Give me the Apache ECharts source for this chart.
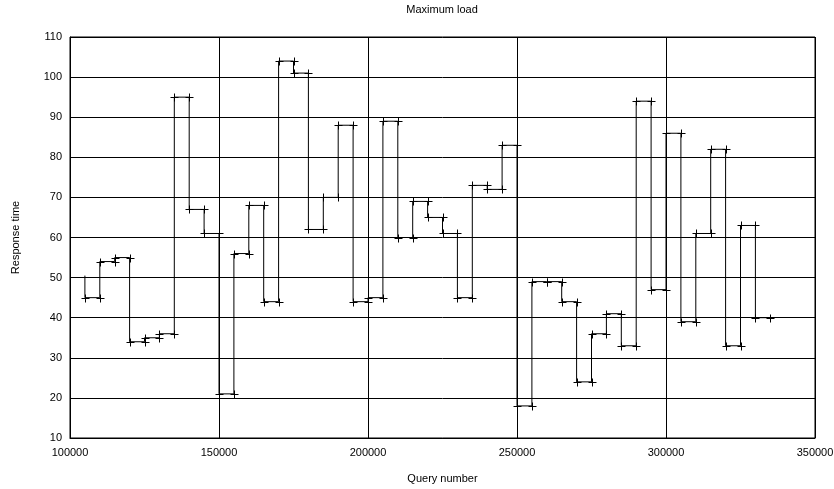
<!DOCTYPE html>
<html>
<head>
<meta charset="utf-8">
<script src="https://cdn.jsdelivr.net/npm/echarts@6/dist/echarts.min.js"></script>
<style>
html,body{margin:0;padding:0;background:#fff;}
#chart{width:834px;height:489px;}
</style>
</head>
<body>
<div id="chart"></div>
<script>
// Start of the step line (first point, no marker)
var startQuery = 105000;
var startResponse = 50.5;
// Query numbers at the right end of each step
var queryNumbers = [110000,115000,120000,125000,130000,135000,140000,145000,150000,155000,
  160000,165000,170000,175000,180000,185000,190000,195000,200000,205000,
  210000,215000,220000,225000,230000,235000,240000,245000,250000,255000,
  260000,265000,270000,275000,280000,285000,290000,295000,300000,305000,
  310000,315000,320000,325000,330000,335000];
// Response time of each step
var responseTimes = [45,54,55,34,35,36,95,67,61,21,
  56,68,44,104,101,62,70,88,44,45,
  89,60,69,65,61,45,73,72,83,18,
  49,49,44,24,36,41,33,94,47,86,
  39,61,82,33,63,40];
var xTicks = [100000,150000,200000,250000,300000,350000];
var yTicks = [10,20,30,40,50,60,70,80,90,100,110];

var lineData = [[startQuery, startResponse]];
var crossData = [];
for (var i = 0; i < queryNumbers.length; i++) {
  var prevX = i === 0 ? startQuery : queryNumbers[i-1];
  lineData.push([queryNumbers[i], responseTimes[i]]);
  crossData.push([prevX, responseTimes[i]]);
  crossData.push([queryNumbers[i], responseTimes[i]]);
}

var font = 'Liberation Sans, Arial, sans-serif';
var chart = echarts.init(document.getElementById('chart'));
chart.setOption({
  animation: false,
  backgroundColor: '#fff',
  title: {
    text: 'Maximum load',
    left: 442,
    top: 4,
    padding: 0,
    textAlign: 'center',
    textStyle: {fontSize: 11, fontWeight: 'normal', color: '#000', fontFamily: font}
  },
  grid: {left: 70, right: 19, top: 37, bottom: 51, show: true, borderColor: '#000', borderWidth: 1,
    containLabel: false, outerBoundsMode: 'none'},
  xAxis: {
    type: 'value', min: xTicks[0], max: xTicks[xTicks.length-1], interval: 50000,
    name: 'Query number', nameLocation: 'middle', nameGap: 35,
    nameTextStyle: {fontSize: 11, color: '#000', fontFamily: font},
    axisLine: {show: true, lineStyle: {color: '#000', width: 1}},
    axisTick: {show: false},
    axisLabel: {fontSize: 11, color: '#000', fontFamily: font, margin: 9, showMaxLabel: true,
      formatter: function (v) { return String(v); }},
    splitLine: {show: true, lineStyle: {color: '#000', width: 1}}
  },
  yAxis: {
    type: 'value', min: yTicks[0], max: yTicks[yTicks.length-1], interval: 10,
    name: 'Response time', nameLocation: 'middle', nameGap: 49,
    nameTextStyle: {fontSize: 11, color: '#000', fontFamily: font},
    axisLine: {show: true, lineStyle: {color: '#000', width: 1}},
    axisTick: {show: false},
    axisLabel: {fontSize: 11, color: '#000', fontFamily: font, margin: 8},
    splitLine: {show: true, lineStyle: {color: '#000', width: 1}}
  },
  series: [
    {
      type: 'line',
      step: 'start',
      data: lineData,
      showSymbol: false,
      symbol: 'none',
      lineStyle: {color: '#000', width: 1},
      z: 3
    },
    {
      type: 'custom',
      data: crossData,
      z: 4,
      renderItem: function (params, api) {
        var p = api.coord([api.value(0), api.value(1)]);
        var x = Math.round(p[0]) + 0.5, y = Math.round(p[1]) + 0.5;
        return {
          type: 'group',
          children: [
            {type: 'line', shape: {x1: x-4, y1: y, x2: x+4, y2: y}, style: {stroke: '#000', lineWidth: 1}},
            {type: 'line', shape: {x1: x, y1: y-4, x2: x, y2: y+4}, style: {stroke: '#000', lineWidth: 1}}
          ]
        };
      }
    }
  ]
});
</script>
</body>
</html>
